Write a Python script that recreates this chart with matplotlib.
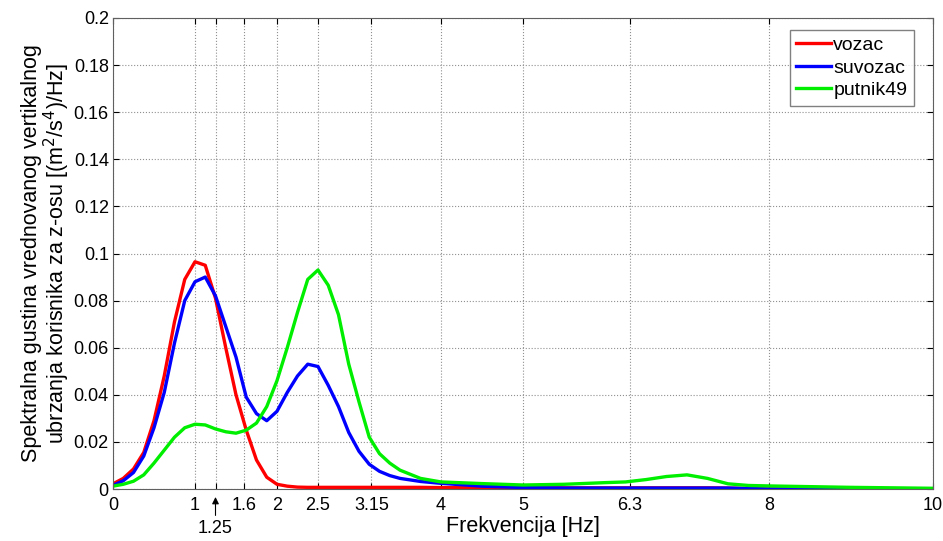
import numpy as np
import matplotlib
matplotlib.use('Agg')
import matplotlib.pyplot as plt

plt.rcParams['font.family'] = ['Liberation Sans', 'DejaVu Sans']

# frequency grid [Hz]
freq = [0, 0.125, 0.25, 0.375, 0.5, 0.625, 0.75, 0.875, 1.0, 1.125, 1.25, 1.375,
        1.5, 1.625, 1.75, 1.875, 2.0, 2.125, 2.25, 2.375, 2.5, 2.625, 2.75, 2.875,
        3.0, 3.125, 3.25, 3.375, 3.5, 3.75, 4.0, 4.5, 5.0, 5.5, 6.0, 6.25, 6.5,
        6.75, 7.0, 7.25, 7.5, 7.75, 8.0, 8.5, 9.0, 10.0]

vozac = [0.0022, 0.0045, 0.0085, 0.0155, 0.029, 0.048, 0.071, 0.089, 0.0965, 0.095,
         0.081, 0.060, 0.040, 0.025, 0.0123, 0.005, 0.002, 0.0012, 0.0008, 0.0007,
         0.0007, 0.0007, 0.0007, 0.0007, 0.0007, 0.0007, 0.0007, 0.0007, 0.0007,
         0.0007, 0.0006, 0.0005, 0.0005, 0.0005, 0.0005, 0.0005, 0.0005, 0.0005,
         0.0005, 0.0005, 0.0004, 0.0002, 0.0, 0.0, 0.0, 0.0]

suvozac = [0.0015, 0.0035, 0.007, 0.014, 0.026, 0.041, 0.062, 0.080, 0.088, 0.090,
           0.082, 0.069, 0.056, 0.039, 0.032, 0.029, 0.033, 0.041, 0.048, 0.053,
           0.052, 0.044, 0.035, 0.024, 0.016, 0.0105, 0.0075, 0.0057, 0.0045,
           0.0032, 0.0024, 0.0012, 0.0006, 0.0004, 0.0004, 0.0004, 0.0004, 0.0004,
           0.0004, 0.0004, 0.0004, 0.0002, 0.0, 0.0, 0.0, 0.0]

putnik49 = [0.0012, 0.002, 0.0033, 0.006, 0.011, 0.0165, 0.022, 0.026, 0.0275, 0.0272,
            0.0255, 0.0243, 0.0237, 0.025, 0.028, 0.035, 0.046, 0.060, 0.075, 0.089,
            0.093, 0.0865, 0.074, 0.053, 0.037, 0.022, 0.015, 0.011, 0.008,
            0.0045, 0.003, 0.0023, 0.0017, 0.002, 0.0027, 0.003, 0.004, 0.0053,
            0.006, 0.0045, 0.0022, 0.0015, 0.0013, 0.001, 0.0007, 0.0003]

xticks = [0, 1, 1.25, 1.6, 2, 2.5, 3.15, 4, 5, 6.3, 8, 10]
xticklabels = ['0', '1', '', '1.6', '2', '2.5', '3.15', '4', '5', '6.3', '8', '10']
yticks = np.arange(0, 0.2001, 0.02)

fig = plt.figure(figsize=(9.43, 5.41), dpi=100)
ax = fig.add_axes([113/943, 52/541, 820/943, 471/541])

ax.plot(freq, vozac, color='#ff0000', lw=2.4, label='vozac')
ax.plot(freq, suvozac, color='#0000ff', lw=2.4, label='suvozac')
ax.plot(freq, putnik49, color='#00ee00', lw=2.4, label='putnik49')

ax.set_xlim(0, 10)
ax.set_ylim(0, 0.2)
ax.set_xticks(xticks)
ax.set_xticklabels(xticklabels)
ax.set_yticks(yticks)
ax.set_yticklabels(['%g' % v for v in np.round(yticks, 2)])
ax.tick_params(direction='in', labelsize=13, top=True, right=True, length=4,
               pad=3)
ax.tick_params(axis='x', pad=6)
ax.grid(True, linestyle=':', color='#909090', lw=0.8)
for s in ax.spines.values():
    s.set_color('#606060')

ax.set_xlabel('Frekvencija [Hz]', fontsize=15.5, labelpad=1)
ax.set_ylabel('Spektralna gustina vrednovanog vertikalnog\n'
              'ubrzanja korisnika za z-osu [(m$^2$/s$^4$)/Hz]',
              fontsize=15.5, labelpad=1, linespacing=1.0)

# 1.25 Hz marker below the axis
ax.annotate('1.25', xy=(1.25, -0.017), xycoords=('data', 'axes fraction'),
            xytext=(1.25, -0.083), textcoords=('data', 'axes fraction'),
            ha='center', va='center', fontsize=13,
            arrowprops=dict(arrowstyle='-|>', color='black', lw=0.8,
                            shrinkA=1, shrinkB=0, mutation_scale=10))

leg = ax.legend(loc='upper right', fontsize=14, fancybox=False,
                handlelength=1.8, handletextpad=0.1, borderpad=0.35,
                labelspacing=0.25, borderaxespad=0,
                bbox_to_anchor=(0.977, 0.975))
leg.get_frame().set_edgecolor('#606060')

fig.savefig('out.png', dpi=100)
